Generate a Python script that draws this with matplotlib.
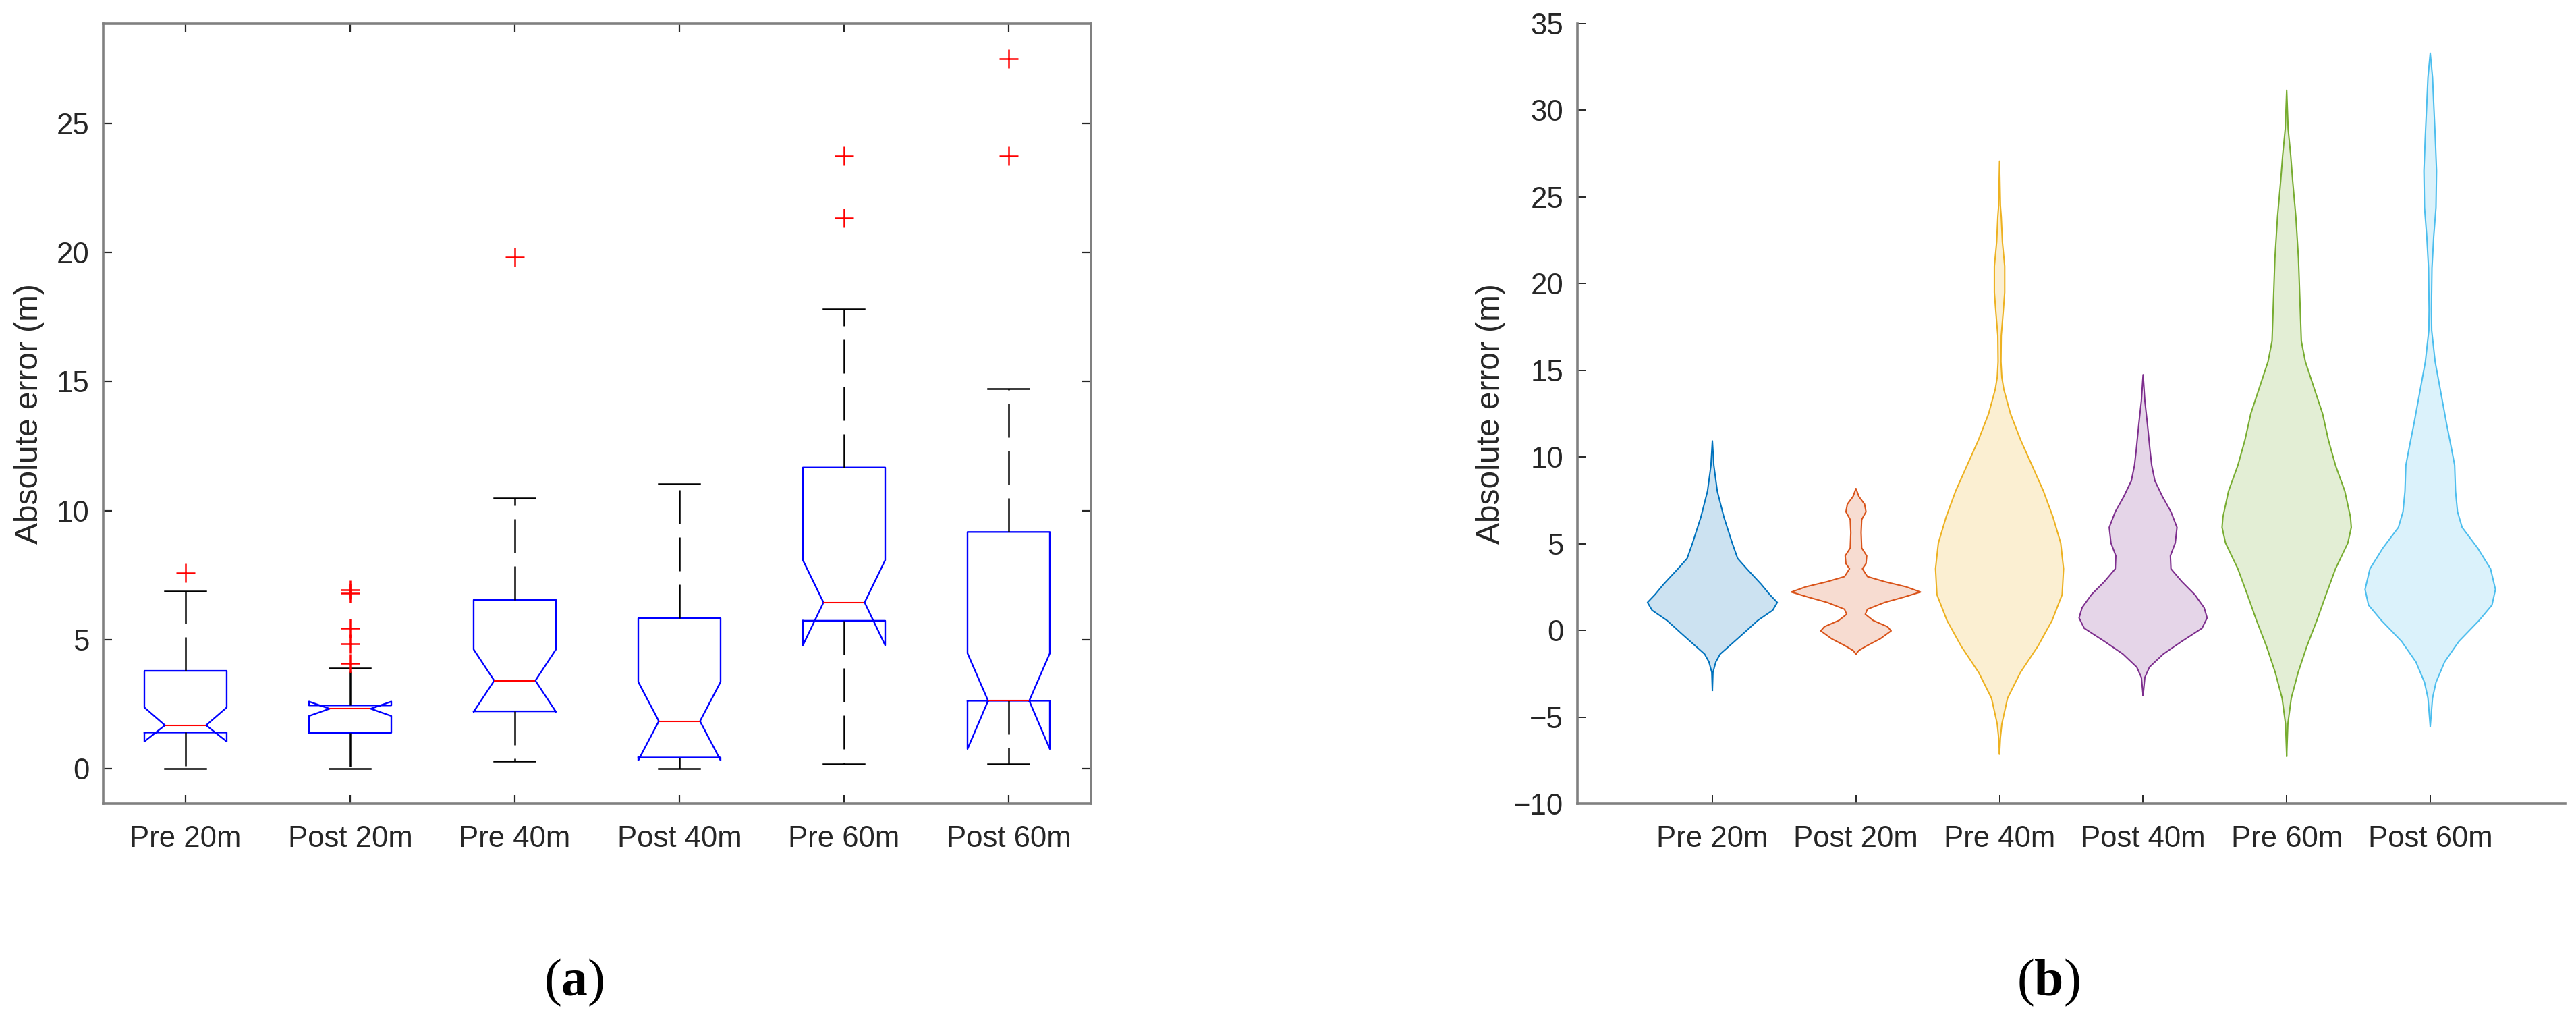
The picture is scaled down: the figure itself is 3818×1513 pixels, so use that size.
import numpy as np
import matplotlib.pyplot as plt

plt.rcParams['font.family'] = ['Liberation Sans', 'DejaVu Sans']
plt.rcParams['mathtext.fontset'] = 'custom'
plt.rcParams['mathtext.rm'] = 'Liberation Serif'
plt.rcParams['mathtext.bf'] = 'Liberation Serif:bold'

labels = ['Pre 20m', 'Post 20m', 'Pre 40m', 'Post 40m', 'Pre 60m', 'Post 60m']

# (a) notched box plot
box_whislo = [0.0, 0.0, 0.30, 0.0, 0.18, 0.18]
box_q1 = [1.40, 1.39, 2.22, 0.43, 5.73, 2.63]
box_cilo = [1.05, 2.04, 2.20, 0.32, 4.78, 0.76]
box_med = [1.68, 2.32, 3.41, 1.84, 6.44, 2.63]
box_cihi = [2.37, 2.60, 4.62, 3.36, 8.08, 4.47]
box_q3 = [3.79, 2.45, 6.54, 5.83, 11.67, 9.17]
box_whishi = [6.87, 3.89, 10.48, 11.04, 17.80, 14.72]
box_fliers = [[7.58], [4.09, 4.85, 5.45, 6.79, 6.94], [19.82], [],
              [21.34, 23.74], [23.74, 27.50]]

# (b) violin outlines: y value and half width (x units)
pre20_y = [-3.46, -2.42, -1.82, -1.37, -0.93, -0.18, 0.57, 1.16, 1.61, 2.06,
           2.66, 3.55, 4.15, 5.04, 6.54, 8.03, 9.52, 10.93]
pre20_w = [0.0, 0.004, 0.024, 0.054, 0.114, 0.216, 0.316, 0.42, 0.452, 0.40,
           0.34, 0.24, 0.176, 0.138, 0.08, 0.034, 0.01, 0.0]

post20_y = [-1.37, -1.16, -0.87, -0.48, -0.03, 0.21, 0.57, 0.93, 1.22, 1.61,
            1.91, 2.21, 2.51, 2.81, 3.10, 3.55, 3.85, 4.30, 4.75, 5.64, 6.39,
            6.84, 7.28, 7.73, 8.18]
post20_w = [0.0, 0.02, 0.08, 0.17, 0.245, 0.22, 0.12, 0.065, 0.08, 0.2,
            0.33, 0.45, 0.35, 0.2, 0.08, 0.045, 0.07, 0.075, 0.04, 0.036, 0.04,
            0.07, 0.06, 0.02, 0.0]

pre40_y = [-7.13, -6.2, -5.4, -3.91, -2.42, -0.93, 0.57, 2.06, 3.55, 5.04,
           6.54, 8.03, 9.52, 11.0, 12.5, 13.9, 14.6, 15.5, 17.0, 18.3, 19.5,
           21.0, 22.4, 23.85, 24.5, 27.07]
pre40_w = [0.0, 0.006, 0.016, 0.056, 0.146, 0.266, 0.366, 0.436, 0.446, 0.426,
           0.372, 0.306, 0.226, 0.146, 0.076, 0.03, 0.016, 0.01, 0.012, 0.025,
           0.036, 0.036, 0.02, 0.012, 0.006, 0.0]

post40_y = [-3.76, -2.72, -2.12, -1.37, -0.63, 0.12, 0.72, 1.31, 2.06, 2.81,
            3.55, 4.30, 5.04, 5.94, 6.84, 7.73, 8.63, 9.52, 10.4, 11.9, 13.25,
            14.75]
post40_w = [0.0, 0.012, 0.044, 0.14, 0.27, 0.41, 0.446, 0.425, 0.36, 0.27,
            0.194, 0.19, 0.224, 0.236, 0.194, 0.134, 0.082, 0.06, 0.048, 0.03,
            0.012, 0.0]

pre60_y = [-7.25, -5.4, -3.91, -2.42, -0.93, 0.57, 2.06, 3.55, 5.04, 5.94,
           6.54, 8.03, 9.52, 11.0, 12.5, 14.0, 15.5, 16.69, 19.07, 21.46,
           23.85, 25.9, 27.4, 28.93, 31.16]
pre60_w = [0.0, 0.008, 0.032, 0.08, 0.14, 0.21, 0.274, 0.34, 0.426, 0.45,
           0.444, 0.405, 0.34, 0.29, 0.25, 0.19, 0.13, 0.102, 0.092, 0.082,
           0.064, 0.042, 0.028, 0.01, 0.0]

post60_y = [-5.55, -3.9, -3.0, -1.82, -0.63, 0.57, 1.46, 2.36, 3.55, 4.75,
            5.94, 6.84, 8.03, 9.52, 10.4, 11.9, 13.7, 15.5, 17.3, 18.5, 20.9,
            22.7, 24.4, 26.5, 28.6, 30.4, 31.9, 33.3]
post60_w = [0.0, 0.016, 0.04, 0.1, 0.2, 0.34, 0.43, 0.454, 0.42, 0.33,
            0.222, 0.19, 0.176, 0.17, 0.15, 0.114, 0.074, 0.034, 0.01, 0.008,
            0.012, 0.024, 0.04, 0.044, 0.034, 0.024, 0.016, 0.0]

violin_colors = ['#0072bd', '#d95319', '#edb120', '#7e2f8e', '#77ac30', '#4dbeee']

tick_col = '#262626'
spine_col = '#808080'

fig = plt.figure(figsize=(38.18, 15.13), dpi=100)

# ---- (a) box plot
ax1 = fig.add_axes([0.04007, 0.21282, 0.38345, 0.76405])
stats = []
for i in range(6):
    stats.append(dict(med=box_med[i], q1=box_q1[i], q3=box_q3[i],
                      whislo=box_whislo[i], whishi=box_whishi[i],
                      cilo=box_cilo[i], cihi=box_cihi[i],
                      fliers=np.array(box_fliers[i])))
ax1.bxp(stats, positions=range(1, 7), widths=0.5, capwidths=0.25,
        shownotches=True, showfliers=True,
        boxprops=dict(color='blue', lw=1.7),
        medianprops=dict(color='red', lw=1.5),
        whiskerprops=dict(color='black', lw=1.8, linestyle=(0, (20, 8))),
        capprops=dict(color='black', lw=1.8),
        flierprops=dict(marker='+', markeredgecolor='red', markersize=20,
                        markeredgewidth=1.8, linestyle='none'))
ax1.set_xlim(0.5, 6.5)
ax1.set_ylim(-1.36, 28.87)
ax1.set_xticks(range(1, 7))
ax1.set_xticklabels(labels)
ax1.set_yticks([0, 5, 10, 15, 20, 25])
ax1.tick_params(direction='in', length=9.5, width=1.6, color=tick_col,
                labelsize=31.5, labelcolor=tick_col, top=True, right=True)
ax1.tick_params(axis='x', pad=23)
ax1.tick_params(axis='y', pad=15)
for s in ax1.spines.values():
    s.set_color(spine_col)
    s.set_linewidth(2.6)
ax1.set_ylabel('Absolute error (m)', fontsize=34.5, color=tick_col)
ax1.yaxis.set_label_coords(-0.0751, 0.5)
ax1.yaxis.label.set_verticalalignment('center')

# ---- (b) violin plot
ax2 = fig.add_axes([0.61236, 0.21282, 0.38345, 0.76405])
violins = [(pre20_y, pre20_w), (post20_y, post20_w), (pre40_y, pre40_w),
           (post40_y, post40_w), (pre60_y, pre60_w), (post60_y, post60_w)]
for i, (vy, vw) in enumerate(violins):
    pos = i + 1
    vy = np.array(vy)
    vw = np.array(vw)
    xs = np.concatenate([pos + vw, (pos - vw)[::-1]])
    ys = np.concatenate([vy, vy[::-1]])
    ax2.fill(xs, ys, facecolor=violin_colors[i], alpha=0.2, edgecolor='none')
    ax2.plot(xs, ys, color=violin_colors[i], lw=1.5)

ax2.set_xlim(0.06, 6.94)
ax2.set_ylim(-10, 35)
ax2.set_xticks(range(1, 7))
ax2.set_xticklabels(labels)
ax2.set_yticks(range(-10, 36, 5))
ax2.tick_params(direction='in', length=9.5, width=1.4, color=tick_col,
                labelsize=31.5, labelcolor=tick_col)
ax2.tick_params(axis='x', pad=23)
ax2.tick_params(axis='y', pad=15)
ax2.spines['top'].set_visible(False)
ax2.spines['right'].set_visible(False)
for s in ['left', 'bottom']:
    ax2.spines[s].set_color(spine_col)
    ax2.spines[s].set_linewidth(2.6)
ax2.set_ylabel('Absolute error (m)', fontsize=34.5, color=tick_col)
ax2.yaxis.set_label_coords(-0.0881, 0.5)
ax2.yaxis.label.set_verticalalignment('center')

# panel captions
fig.text(0.2229, 0.0377, r'$(\mathbf{a})$', ha='center', va='center', fontsize=56)
fig.text(0.7952, 0.0377, r'$(\mathbf{b})$', ha='center', va='center', fontsize=56)

fig.savefig('out.png', dpi=100, facecolor='white')
